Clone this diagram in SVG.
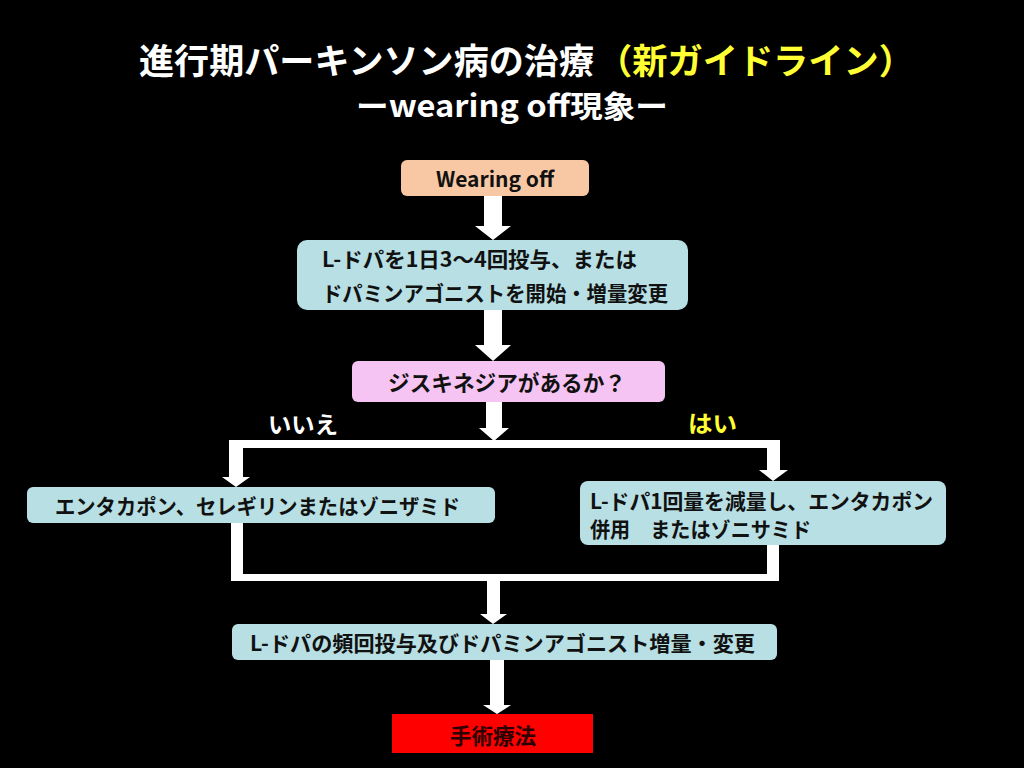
<svg xmlns="http://www.w3.org/2000/svg" width="1024" height="768" viewBox="0 0 1024 768">
<style>
.t{font-family:"Noto Sans CJK JP","Noto Sans",sans-serif;font-weight:bold;dominant-baseline:central}
.bx{fill:#111}
.cy{fill:#b7dfe4}
.wh{fill:#ffffff}
</style>
<rect x="0" y="0" width="1024" height="768" fill="#000"/>
<g id="title">
<text class="t" x="139" y="58" font-size="35" fill="#ffffff" textLength="455" lengthAdjust="spacingAndGlyphs">進行期パーキンソン病の治療</text>
<text class="t" x="597" y="58" font-size="35" fill="#ffff33" textLength="317" lengthAdjust="spacingAndGlyphs">（新ガイドライン）</text>
<text class="t" x="512" y="104" font-size="30" fill="#ffffff" text-anchor="middle" textLength="312" lengthAdjust="spacingAndGlyphs">ーwearing off現象ー</text>
</g>
<g id="connectors" class="wh">
<polygon points="484,196 502,196 502,226 511,226 493,240 475,226 484,226"/>
<polygon points="484,310 502,310 502,345 511,345 493,361 475,345 484,345"/>
<polygon points="486,402 502,402 502,428 509,428 494,441 479,428 486,428"/>
<rect x="229" y="440" width="551" height="8"/>
<polygon points="229,440 243,440 243,477 250,477 236,487 222,477 229,477"/>
<polygon points="767,440 780,440 780,470 788,470 773,481 759,470 767,470"/>
<rect x="231" y="523" width="12" height="58"/>
<rect x="767" y="544" width="12" height="37"/>
<rect x="231" y="574" width="548" height="7"/>
<polygon points="487,581 500,581 500,614 507,614 493,624 480,614 487,614"/>
<polygon points="490,659 504,659 504,705 511,705 497,714 483,705 490,705"/>
<text class="t" x="268" y="423" font-size="23" fill="#ffffff" textLength="70" lengthAdjust="spacingAndGlyphs">いいえ</text>
<text class="t" x="688" y="422" font-size="23" fill="#ffff33" textLength="49" lengthAdjust="spacingAndGlyphs">はい</text>
</g>
<g id="n_wearing">
<rect x="401" y="160" width="188" height="36" rx="6" fill="#f8c8a4"/>
<text class="t bx" x="495" y="178" font-size="21" text-anchor="middle" textLength="118" lengthAdjust="spacingAndGlyphs">Wearing off</text>
</g>
<g id="n_ldopa">
<rect x="297" y="240" width="391" height="70" rx="10" class="cy"/>
<text class="t bx" x="322" y="258" font-size="21" textLength="315" lengthAdjust="spacingAndGlyphs">L-ドパを1日3～4回投与、または</text>
<text class="t bx" x="322" y="292" font-size="21" textLength="346" lengthAdjust="spacingAndGlyphs">ドパミンアゴニストを開始・増量変更</text>
</g>
<g id="n_dysk">
<rect x="352" y="361" width="313" height="41" rx="6" fill="#f6c4f2"/>
<text class="t bx" x="507" y="381" font-size="22" text-anchor="middle" textLength="238" lengthAdjust="spacingAndGlyphs">ジスキネジアがあるか？</text>
</g>
<g id="n_no">
<rect x="27" y="487" width="468" height="36" rx="6" class="cy"/>
<text class="t bx" x="55" y="505" font-size="21" textLength="405" lengthAdjust="spacingAndGlyphs">エンタカポン、セレギリンまたはゾニザミド</text>
</g>
<g id="n_yes">
<rect x="580" y="481" width="366" height="64" rx="8" class="cy"/>
<text class="t bx" x="590" y="500" font-size="21" textLength="343" lengthAdjust="spacingAndGlyphs">L-ドパ1回量を減量し、エンタカポン</text>
<text class="t bx" x="590" y="528" font-size="21" textLength="221" lengthAdjust="spacingAndGlyphs">併用　またはゾニサミド</text>
</g>
<g id="n_freq">
<rect x="232" y="624" width="545" height="36" rx="6" class="cy"/>
<text class="t bx" x="250" y="642" font-size="21" textLength="505" lengthAdjust="spacingAndGlyphs">L-ドパの頻回投与及びドパミンアゴニスト増量・変更</text>
</g>
<g id="n_surgery">
<rect x="392" y="714" width="201" height="39" fill="#ff0000"/>
<text class="t" x="493" y="734" font-size="22" fill="#2a0000" text-anchor="middle" textLength="86" lengthAdjust="spacingAndGlyphs">手術療法</text>
</g>
</svg>
